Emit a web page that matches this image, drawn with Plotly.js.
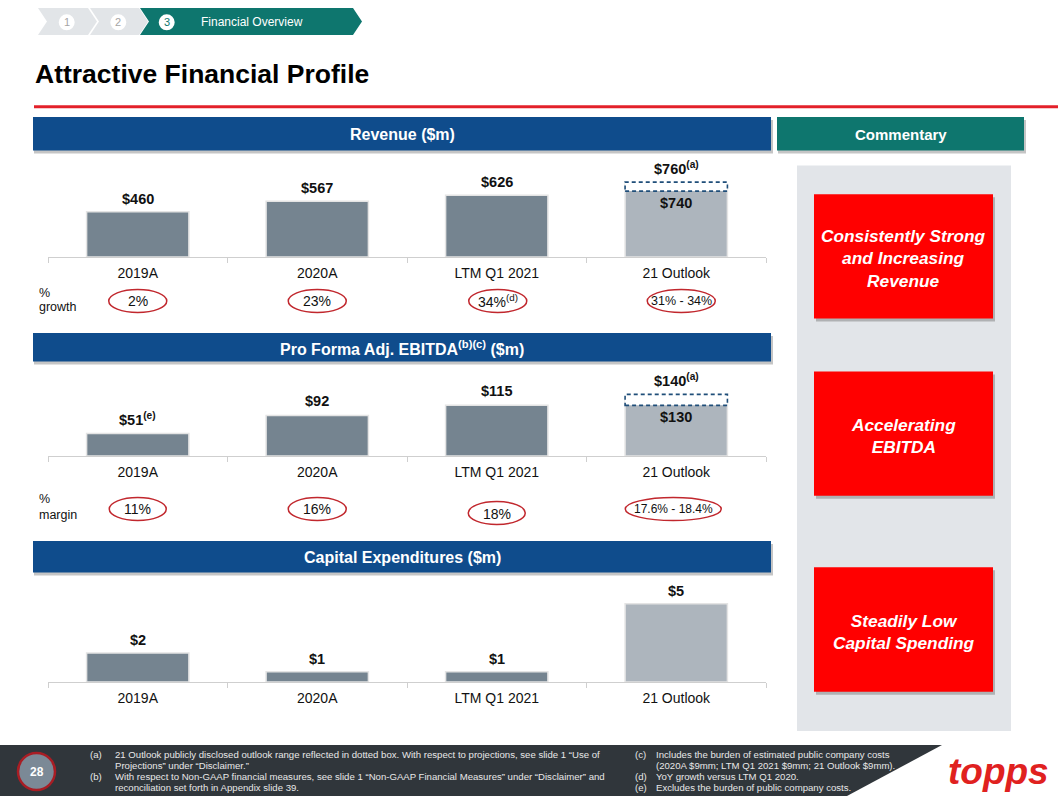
<!DOCTYPE html>
<html>
<head>
<meta charset="utf-8">
<script src="https://cdn.plot.ly/plotly-3.0.1.min.js"></script>
<style>html,body{margin:0;padding:0;background:#fff;}#chart{width:1058px;height:796px;}</style>
</head>
<body>
<div id="chart"></div>
<script>
// ---------------- DATA ----------------
const categories = ["2019A", "2020A", "LTM Q1 2021", "21 Outlook"];
const revenue = [460, 567, 626, 740];
const revenueOutlookHigh = 760;
const revenueLabels = ["$460", "$567", "$626", "$740"];
const revenueHighLabel = "$760<sup>(a)</sup>";
const revenueGrowth = ["2%", "23%", "34%<sup>(d)</sup>", "31% - 34%"];

const ebitda = [51, 92, 115, 130];
const ebitdaOutlookHigh = 140;
const ebitdaLabels = ["$51<sup>(e)</sup>", "$92", "$115", "$130"];
const ebitdaHighLabel = "$140<sup>(a)</sup>";
const ebitdaMargin = ["11%", "16%", "18%", "17.6% - 18.4%"];

const capex = [1.85, 0.65, 0.65, 5.0];
const capexLabels = ["$2", "$1", "$1", "$5"];

const commentary = ["Consistently Strong<br>and Increasing<br>Revenue", "Accelerating<br>EBITDA", "Steadily Low<br>Capital Spending"];
const steps = ["1", "2", "3"];
const stepTitle = "Financial Overview";
const slideTitle = "Attractive Financial Profile";
const pageNumber = "28";
const footLeftTags = ["(a)", "", "(b)", ""];
const footLeft = [
  "21 Outlook publicly disclosed outlook range reflected in dotted box. With respect to projections, see slide 1 “Use of",
  "Projections” under “Disclaimer.”",
  "With respect to Non-GAAP financial measures, see slide 1 “Non-GAAP Financial Measures” under “Disclaimer” and",
  "reconciliation set forth in Appendix slide 39."
];
const footRightTags = ["(c)", "", "(d)", "(e)"];
const footRight = [
  "Includes the burden of estimated public company costs",
  "(2020A $9mm; LTM Q1 2021 $9mm; 21 Outlook $9mm).",
  "YoY growth versus LTM Q1 2020.",
  "Excludes the burden of public company costs."
];

// ---------------- STYLE / LAYOUT HELPERS ----------------
const W = 1058, H = 796;
const X = p => p / W;
const Y = p => 1 - p / H;
const SANS = "Liberation Sans, Arial, sans-serif";
const DARK = "#758490", LIGHT = "#adb5bd";
const NAVY = "#0f4c8c", TEAL = "#0e766e", RED = "#ff0000", CIRCLE = "#c1272d";
const BARGAP = 0.43;
const colors = categories.map((c, i) => i === categories.length - 1 ? LIGHT : DARK);

const xdom = [X(48), X(766)];
function xaxis(anchor) {
  return {
    domain: xdom, anchor: anchor, type: "category", range: [-0.5, categories.length - 0.5],
    showline: true, linecolor: "#cfcfcf", linewidth: 1, ticks: "outside", tickson: "boundaries",
    ticklen: 5, tickcolor: "#cfcfcf", showgrid: false, zeroline: false, fixedrange: true,
    ticklabelstandoff: 3,
    tickfont: {family: SANS, size: 14, color: "#111"}
  };
}
function yaxis(anchor, base, top, max) {
  return {domain: [Y(base), Y(top)], anchor: anchor, range: [0, max], visible: false, fixedrange: true};
}

function barTrace(vals, xa, ya) {
  return {
    type: "bar", x: categories, y: vals, xaxis: xa, yaxis: ya,
    marker: {color: colors, line: {color: "#e4e4e4", width: 1.5}},
    hoverinfo: "skip"
  };
}

const data = [
  barTrace(revenue, "x", "y"),
  barTrace(ebitda, "x2", "y2"),
  barTrace(capex, "x3", "y3")
];

const shapes = [];
const ann = [];

function rectPx(x0, y0, x1, y1, fill, extra) {
  shapes.push(Object.assign({type: "rect", xref: "paper", yref: "paper", x0: X(x0), x1: X(x1), y0: Y(y1), y1: Y(y0),
    fillcolor: fill, line: {width: 0}, layer: "below"}, extra || {}));
}
function pathPx(pts, fill) {
  const d = pts.map((p, i) => (i ? "L" : "M") + X(p[0]).toFixed(5) + "," + Y(p[1]).toFixed(5)).join(" ") + " Z";
  shapes.push({type: "path", xref: "paper", yref: "paper", path: d, fillcolor: fill, line: {width: 0}, layer: "below"});
}
function text(x, y, t, font, extra) {
  ann.push(Object.assign({xref: "paper", yref: "paper", x: X(x), y: Y(y), text: t, showarrow: false,
    xanchor: "center", yanchor: "middle", font: font}, extra || {}));
}

// ---- breadcrumb ----
pathPx([[38, 8], [88, 8], [97, 21.5], [88, 35], [38, 35], [47, 21.5]], "#e2e5e8");
pathPx([[90, 8], [139, 8], [148, 21.5], [139, 35], [90, 35], [99, 21.5]], "#e2e5e8");
pathPx([[140, 8], [353, 8], [362, 21.5], [353, 35], [140, 35], [149, 21.5]], TEAL);
[[66.7, "#a5a5a5"], [118.3, "#a5a5a5"], [166.7, TEAL]].forEach((c, i) => {
  shapes.push({type: "circle", xref: "paper", yref: "paper", x0: X(c[0] - 8), x1: X(c[0] + 8), y0: Y(30.3), y1: Y(14.3),
    fillcolor: "#ffffff", line: {width: 0}});
  text(c[0], 22.3, steps[i], {family: SANS, size: 11, color: c[1]});
});
text(252, 22, stepTitle, {family: SANS, size: 12, color: "#ffffff"});

// ---- title ----
text(33, 74, slideTitle, {family: SANS, size: 26.5, color: "#000", weight: "bold"}, {xanchor: "left"});
rectPx(34, 105.3, 1058, 108.3, "#e3202a");

// ---- section headers ----
function header(x0, y0, x1, y1, fill, label, size) {
  rectPx(x0 + 1, y0 + 3, x1 + 2, y1 + 3, "rgba(90,90,90,0.35)");
  rectPx(x0, y0, x1, y1, fill);
  text((x0 + x1) / 2, (y0 + y1) / 2 + 1, label, {family: SANS, size: size || 16, color: "#fff", weight: "bold"});
}
header(33, 117, 771, 150.5, NAVY, "Revenue ($m)");
header(777, 117, 1024, 150.5, TEAL, "Commentary", 15);
header(33, 333, 771, 361.5, NAVY, "Pro Forma Adj. EBITDA<sup>(b)(c)</sup> ($m)");
header(33, 541, 771, 572.5, NAVY, "Capital Expenditures ($m)");

// ---- commentary panel ----
rectPx(797, 165.5, 1011, 731, "#e2e5e9");
[[194.2, 318.6], [371.4, 495.8], [567.3, 691.7]].forEach((b, i) => {
  rectPx(816, b[0] + 3, 995, b[1] + 3, "rgba(80,80,80,0.35)");
  rectPx(814, b[0], 993, b[1], RED);
  text(903.5, (b[0] + b[1]) / 2 + 2, commentary[i], {family: SANS, size: 17.3, color: "#fff", weight: "bold", style: "italic"});
});

// ---- value labels ----
const VF = {family: SANS, size: 14.5, color: "#111", weight: "bold"};
function valueLabels(labels, vals, xa, ya, shiftUp) {
  labels.forEach((t, i) => {
    if (i === labels.length - 1 && (ya === "y" || ya === "y2")) return;
    ann.push({xref: xa, yref: ya, x: categories[i], y: vals[i], text: t, showarrow: false, yanchor: "bottom",
      yshift: shiftUp, font: VF});
  });
}
valueLabels(revenueLabels, revenue, "x", "y", 3);
valueLabels(ebitdaLabels, ebitda, "x2", "y2", 4);
valueLabels(capexLabels, capex, "x3", "y3", 3);

// outlook range boxes (dashed) + labels
const halfBar = (1 - BARGAP) / 2;
function outlookBox(xa, ya, high, lowLabel, highLabel, boxPx) {
  const idx = categories.length - 1;
  shapes.push({type: "rect", xref: xa, yref: ya, x0: idx - halfBar, x1: idx + halfBar, ysizemode: "pixel", yanchor: high,
    y0: -boxPx, y1: 0, fillcolor: "#ffffff", line: {color: "#1f4e79", width: 1.6, dash: "4px,3px"}, layer: "above"});
  ann.push({xref: xa, yref: ya, x: categories[idx], y: high, text: highLabel, showarrow: false, yanchor: "bottom",
    yshift: 3, font: VF});
  ann.push({xref: xa, yref: ya, x: categories[idx], y: high, text: lowLabel, showarrow: false, yanchor: "top",
    yshift: -(boxPx + 2), font: VF});
}
outlookBox("x", "y", revenueOutlookHigh, revenueLabels[3], revenueHighLabel, 9);
outlookBox("x2", "y2", ebitdaOutlookHigh, ebitdaLabels[3], ebitdaHighLabel, 11);

// ---- growth / margin ellipses ----
function ellipses(labels, xa, centersY, widths, dxs, sizes) {
  labels.forEach((t, i) => {
    const cy = centersY[i], w = widths[i], dx = dxs[i];
    shapes.push({type: "circle", xref: xa, yref: "paper", xsizemode: "pixel", xanchor: categories[i],
      x0: dx - w / 2, x1: dx + w / 2, y0: Y(cy + 11.5), y1: Y(cy - 11.5),
      fillcolor: "#ffffff", line: {color: CIRCLE, width: 1.5}, layer: "above"});
    ann.push({xref: xa, yref: "paper", x: categories[i], xshift: dx, y: Y(cy + 0.5), text: t, showarrow: false,
      font: {family: SANS, size: sizes[i], color: "#111"}});
  });
}
ellipses(revenueGrowth, "x", [301, 301, 301, 301], [58, 58, 58, 68], [0, 0, 1, 5], [14, 14, 14, 12.5]);
ellipses(ebitdaMargin, "x2", [509, 509, 513, 509], [57, 58, 57, 96], [0, 0, 0, -3], [14, 14, 14, 12]);
text(37, 292.5, "%", {family: SANS, size: 12.5, color: "#111"}, {xanchor: "left"});
text(37, 307, "growth", {family: SANS, size: 12.5, color: "#111"}, {xanchor: "left"});
text(37, 498.5, "%", {family: SANS, size: 12.5, color: "#111"}, {xanchor: "left"});
text(37, 515, "margin", {family: SANS, size: 12.5, color: "#111"}, {xanchor: "left"});

// ---- footer ----
pathPx([[0, 745], [942, 745], [847, 796], [0, 796]], "#30363b");
shapes.push({type: "circle", xref: "paper", yref: "paper", x0: X(18), x1: X(55), y0: Y(790), y1: Y(753),
  fillcolor: "#7b8996", line: {color: "#a81d24", width: 2.5}});
text(36.5, 772, pageNumber, {family: SANS, size: 12, color: "#fff", weight: "bold"});
const footY = [754.5, 765.5, 776.5, 787.5];
const FF = {family: SANS, size: 9.6, color: "#e8e8e8"};
footLeft.forEach((t, i) => {
  if (footLeftTags[i]) text(88, footY[i], footLeftTags[i], FF, {xanchor: "left"});
  text(113, footY[i], t, FF, {xanchor: "left"});
});
footRight.forEach((t, i) => {
  if (footRightTags[i]) text(633, footY[i], footRightTags[i], FF, {xanchor: "left"});
  text(654, footY[i], t, FF, {xanchor: "left"});
});
// logo
text(998, 771, "topps", {family: SANS, size: 37, color: "#e0211f", weight: "bold", style: "italic"});

const layout = {
  width: W, height: H, margin: {l: 0, r: 0, t: 0, b: 0},
  paper_bgcolor: "#ffffff", plot_bgcolor: "rgba(0,0,0,0)",
  showlegend: false, bargap: BARGAP,
  xaxis: xaxis("y"), yaxis: yaxis("x", 257, 157, 1015),
  xaxis2: xaxis("y2"), yaxis2: yaxis("x2", 456, 356, 227),
  xaxis3: xaxis("y3"), yaxis3: yaxis("x3", 682, 582, 6.38),
  shapes: shapes, annotations: ann
};
Plotly.newPlot("chart", data, layout, {staticPlot: true, displayModeBar: false});
</script>
</body>
</html>
